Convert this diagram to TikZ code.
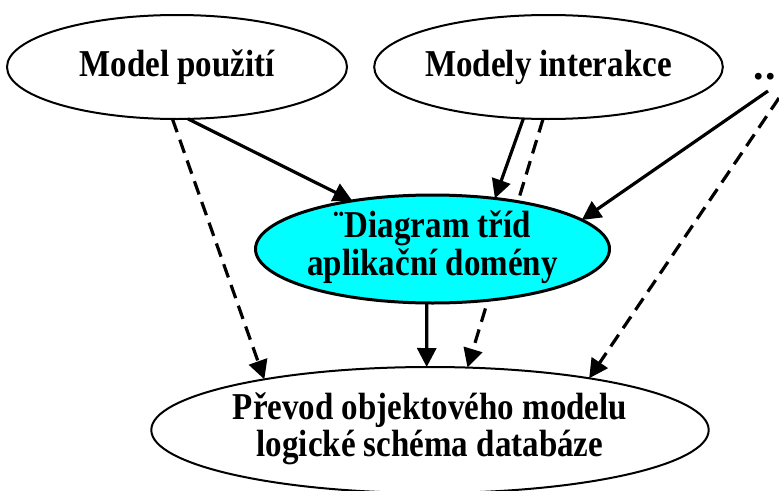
\documentclass[tikz,border=0pt]{standalone}
\usepackage{fontspec}
\usepackage{graphicx}
\setmainfont{Liberation Serif}
\usetikzlibrary{shapes.geometric,arrows.meta}
\definecolor{aquafill}{RGB}{0,255,255}
\newcommand\vstretch[1]{\scalebox{1}[1.15]{#1}}
\begin{document}
\begin{tikzpicture}[x=1pt,y=-1pt,
  ell/.style={ellipse,draw,line width=2pt,inner sep=0pt,outer sep=0pt,
    font={\bfseries\fontsize{33}{32}\selectfont}},
  conn/.style={line width=3.2pt,-{Triangle[length=19pt,width=19pt]}},
  dconn/.style={conn,dash pattern=on 14pt off 8pt}]
\useasboundingbox (0,0) rectangle (779,490);
\node[ell,minimum width=340pt,minimum height=104pt] (A) at (177,67)
  {\raisebox{-3pt}{\vstretch{Model použití}}};
\node[ell,minimum width=337pt,minimum height=104pt] (B) at (548.5,67)
  {\raisebox{-3pt}{\vstretch{Modely interakce}}};
\node[ell,minimum width=536pt,minimum height=126pt] (P) at (430,430)
  {\raisebox{-5pt}{\vstretch{\begin{tabular}{@{}c@{}}Převod objektového modelu\\logické schéma databáze\end{tabular}}}};
\node[inner sep=0pt,font={\bfseries\fontsize{42}{42}\selectfont}] (dots) at (765,77) {.\kern1.5pt.};
\coordinate (ds) at (768,91);
\coordinate (dd) at (779,98);
\draw[dconn] (B.-96) -- (P.59.3);
\node[ell,line width=3pt,fill=aquafill,minimum width=339pt,minimum height=108pt] (M) at (432.5,249)
  {\raisebox{-3.5pt}{\vstretch{\begin{tabular}{@{}c@{}}¨Diagram tříd\\aplikační domény\end{tabular}}}};
\draw[conn] (A.-78) -- (M.149);
\draw[dconn] (A.-95.5) -- (P.163.6);
\draw[conn] (B.-116.4) -- (M.39.8);
\draw[conn] (ds) -- (M.11.6);
\draw[dconn] (dd) -- (P.18.3);
\draw[conn] (M.-96.9) -- (P.93.6);
\end{tikzpicture}
\end{document}
